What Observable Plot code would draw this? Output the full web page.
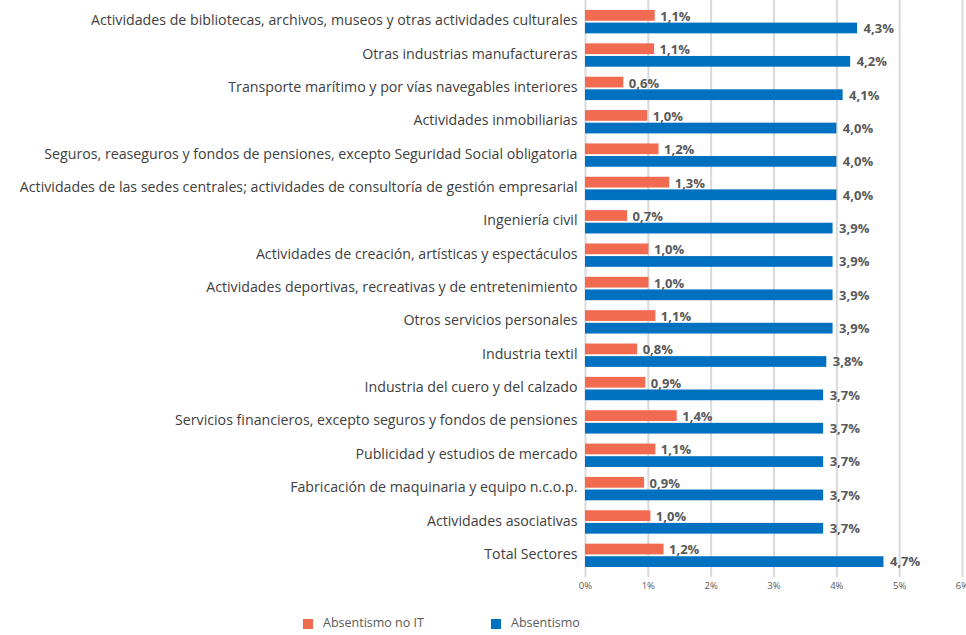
<!DOCTYPE html>
<html>
<head>
<meta charset="utf-8">
<script src="https://cdn.jsdelivr.net/npm/d3@7"></script>
<script src="https://cdn.jsdelivr.net/npm/@observablehq/plot@0.6"></script>
<style>
  html, body { margin: 0; padding: 0; background: #fff; }
  #wrap { position: relative; width: 966px; font-family: "Open Sans", sans-serif; }
  #legend { position: relative; height: 30px; width: 966px; }
  .sw { position: absolute; width: 10px; height: 10px; top: 14px; }
  .lt { position: absolute; top: 10px; font-size: 12.5px; color: #595959; line-height: 16px; }
</style>
</head>
<body>
<div id="wrap">
  <div id="chart"></div>
  <div id="legend"></div>
</div>
<script>
const categories = [
  "Actividades de bibliotecas, archivos, museos y otras actividades culturales",
  "Otras industrias manufactureras",
  "Transporte marítimo y por vías navegables interiores",
  "Actividades inmobiliarias",
  "Seguros, reaseguros y fondos de pensiones, excepto Seguridad Social obligatoria",
  "Actividades de las sedes centrales; actividades de consultoría de gestión empresarial",
  "Ingeniería civil",
  "Actividades de creación, artísticas y espectáculos",
  "Actividades deportivas, recreativas y de entretenimiento",
  "Otros servicios personales",
  "Industria textil",
  "Industria del cuero y del calzado",
  "Servicios financieros, excepto seguros y fondos de pensiones",
  "Publicidad y estudios de mercado",
  "Fabricación de maquinaria y equipo n.c.o.p.",
  "Actividades asociativas",
  "Total Sectores"
];
// Bar lengths (%)
const absentismoNoIT = [1.11, 1.10, 0.61, 0.99, 1.17, 1.34, 0.67, 1.01, 1.01, 1.12, 0.83, 0.96, 1.46, 1.12, 0.94, 1.04, 1.25];
const absentismo     = [4.33, 4.22, 4.10, 4.00, 4.00, 4.00, 3.94, 3.94, 3.94, 3.94, 3.84, 3.79, 3.79, 3.79, 3.79, 3.79, 4.75];
// Value labels as printed
const labelsNoIT = ["1,1%","1,1%","0,6%","1,0%","1,2%","1,3%","0,7%","1,0%","1,0%","1,1%","0,8%","0,9%","1,4%","1,1%","0,9%","1,0%","1,2%"];
const labelsAbs  = ["4,3%","4,2%","4,1%","4,0%","4,0%","4,0%","3,9%","3,9%","3,9%","3,9%","3,8%","3,7%","3,7%","3,7%","3,7%","3,7%","4,7%"];
const xTicks = [0, 1, 2, 3, 4, 5, 6];
const seriesNames = ["Absentismo no IT", "Absentismo"];
const seriesColors = ["#F26B50", "#0070C0"];

const data = categories.map((c, i) => ({
  cat: c, noit: absentismoNoIT[i], abs: absentismo[i], lNoit: labelsNoIT[i], lAbs: labelsAbs[i]
}));

const chart = Plot.plot({
  width: 966,
  height: 605,
  marginLeft: 585,
  marginRight: 4,
  marginTop: 0,
  marginBottom: 28,
  style: { fontFamily: "'Open Sans', sans-serif", background: "#fff", overflow: "visible" },
  x: { domain: [0, 6], label: null },
  y: { domain: categories, padding: 0.3, round: false, label: null },
  marks: [
    Plot.ruleX(xTicks, { stroke: "#d9d9d9", strokeWidth: 2 }),
    Plot.barX(data, { y: "cat", x: "noit", fill: seriesColors[0], insetBottom: 12.6 }),
    Plot.barX(data, { y: "cat", x: "abs", fill: seriesColors[1], insetTop: 12.6 }),
    Plot.text(data, { y: "cat", x: "noit", text: "lNoit", dx: 5, dy: -5.5, textAnchor: "start",
      fontWeight: "bold", fill: "#595959", fontSize: 13 }),
    Plot.text(data, { y: "cat", x: "abs", text: "lAbs", dx: 6, dy: 6.5, textAnchor: "start",
      fontWeight: "bold", fill: "#595959", fontSize: 13 }),
    Plot.axisX({ ticks: xTicks, tickFormat: d => d + "%", tickSize: 0, tickPadding: 5,
      fontSize: 9.5, fill: "#595959", label: null }),
    Plot.axisY({ tickSize: 0, tickPadding: 8, dy: -1.5, fontSize: 14.2, fill: "#404040", label: null })
  ]
});
document.getElementById("chart").appendChild(chart);

const legend = document.getElementById("legend");
const legendPos = [{sw: 303, tx: 323}, {sw: 491, tx: 511}];
seriesNames.forEach((name, i) => {
  const s = document.createElement("div");
  s.className = "sw"; s.style.left = legendPos[i].sw + "px"; s.style.background = seriesColors[i];
  const t = document.createElement("div");
  t.className = "lt"; t.style.left = legendPos[i].tx + "px"; t.textContent = name;
  legend.appendChild(s); legend.appendChild(t);
});
</script>
</body>
</html>
